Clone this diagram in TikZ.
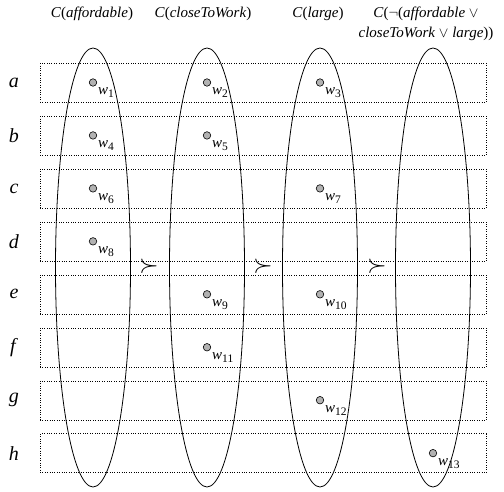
\documentclass[tikz,border=0pt]{standalone}
\usepackage{fontspec}
\setmainfont{Liberation Serif}
\usepackage{tikz}
\usetikzlibrary{shapes,positioning,calc}

\newcommand{\wsub}[1]{\textit{w}\raisebox{-3pt}{\fontsize{11.5}{12}\selectfont #1}}

\begin{document}
\begin{tikzpicture}[x=1pt,y=-1pt,
        rowbox/.style={draw, dotted, minimum width=446pt, minimum height=39pt, inner sep=0pt},
        cluster/.style={draw, ellipse, line width=0.8pt, minimum width=75pt, minimum height=439pt, inner sep=0pt},
        world/.style={circle, draw, line width=0.6pt, fill=gray!60, minimum size=7.5pt, inner sep=0pt},
        wlabel/.style={anchor=base west, inner sep=0pt, font=\fontsize{15}{17}\selectfont},
        rowlabel/.style={font=\fontsize{20}{24}\selectfont},
        ctitle/.style={font=\fontsize{15}{20}\selectfont, align=center},
        order/.style={font=\fontsize{24.88}{28}\selectfont}]

    \useasboundingbox (0,0) rectangle (504,492);

    % rows of worlds
    \foreach \r [count=\i from 0] in {a,b,c,d,e,f,g,h} {
        \node[rowbox] (row\r) at (263,82.5+52.95*\i) {};
        \node[rowlabel] (lab\r) at (14,82.5+52.95*\i) {\textit{\r}};
    }

    % concepts
    \node[cluster] (ell1) at (93,267.5) {};
    \node[cluster] (ell2) at (207,267.5) {};
    \node[cluster] (ell3) at (320,267.5) {};
    \node[cluster] (ell4) at (433,267.5) {};

    \node[ctitle] (t1) at (92,14) {\textit{C}(\textit{affordable})};
    \node[ctitle] (t2) at (203,14) {\textit{C}(\textit{closeToWork})};
    \node[ctitle] (t3) at (318,14) {\textit{C}(\textit{large})};
    \node[ctitle] (t4) at (426,24) {\textit{C}($\neg$(\textit{affordable} $\vee$\\\textit{closeToWork} $\vee$ \textit{large}))};

    % worlds
    \foreach \n/\c/\r in {1/1/a, 4/1/b, 6/1/c, 8/1/d,
                          2/2/a, 5/2/b, 9/2/e, 11/2/f,
                          3/3/a, 7/3/c, 10/3/e, 12/3/g,
                          13/4/h} {
        \node[world] (w\n) at (ell\c |- row\r) {};
        \node[wlabel] (lw\n) at ([shift={(5,12)}]w\n.center) {\wsub{\n}};
    }

    % preference
    \node[order] (s1) at (149,266) {$\succ$};
    \node[order] (s2) at (263,266) {$\succ$};
    \node[order] (s3) at (377,266) {$\succ$};
\end{tikzpicture}
\end{document}
